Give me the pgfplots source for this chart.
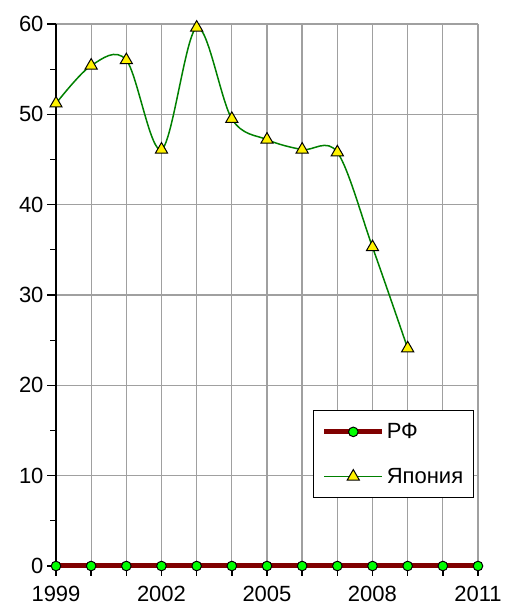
\documentclass[border=0pt]{standalone}
\usepackage{fontspec}
\setmainfont{Liberation Sans}
\usepackage{pgfplots}
\pgfplotsset{compat=1.18}
\definecolor{rfred}{HTML}{800000}
\definecolor{jpgreen}{HTML}{008000}
\definecolor{gridgray}{HTML}{A0A0A0}
\begin{document}
\begin{tikzpicture}
\begin{axis}[
    scale only axis,
    width=422pt, height=542pt,
    xmin=1999, xmax=2011,
    ymin=0, ymax=60,
    axis x line*=bottom, axis y line*=left,
    axis line style={black, line width=1.2pt, -},
    xtick={1999,...,2011},
    xticklabels={1999,,,2002,,,2005,,,2008,,,2011},
    ytick={0,10,...,60},
    minor ytick={5,15,...,55},
    xtick align=outside, ytick align=outside,
    xtick pos=bottom, ytick pos=left,
    major tick length=9pt, minor tick length=6pt,
    tick style={black, line width=1.2pt},
    xtick style={draw=none},
    xmajorgrids, ymajorgrids,
    grid style={gridgray, line width=1.3pt},
    minor grid style={draw=none},
    tick label style={font=\fontsize{22}{24}\selectfont},
    xticklabel style={inner sep=0pt, text depth=0pt, yshift=-11pt},
    /pgf/number format/assume math mode=true,
    clip=false,
    legend style={at={(rel axis cs:0.990,0.288)}, anchor=north east,
        draw=black, line width=1.2pt, fill=white,
        font=\fontsize{22}{24}\selectfont,
        row sep=24pt, inner xsep=8pt, inner ysep=11pt},
    legend cell align=left,
    legend image code/.code={%
        \draw[mark repeat=2, mark phase=2, #1]
            plot coordinates {(0pt,0pt) (29pt,0pt) (58pt,0pt)};},
]
% x tick marks below the axis
\addplot[black, line width=1.5pt, ycomb, no marks, forget plot] coordinates {
    (1999,-1.1) (2000,-1.1) (2001,-1.1) (2002,-1.1) (2003,-1.1) (2004,-1.1) (2005,-1.1)
    (2006,-1.1) (2007,-1.1) (2008,-1.1) (2009,-1.1) (2010,-1.1) (2011,-1.1)
};
\addplot[rfred, line width=5pt, mark=*, mark size=4.8pt,
    mark options={fill=green, draw=black, line width=1pt}] coordinates {
    (1999,0) (2000,0) (2001,0) (2002,0) (2003,0) (2004,0) (2005,0)
    (2006,0) (2007,0) (2008,0) (2009,0) (2010,0) (2011,0)
};
\addlegendentry{РФ}
\addplot[color=jpgreen, line width=1.5pt, smooth, tension=0.55, mark=triangle*, mark size=7pt,
    mark options={fill=yellow, draw=black, line width=1pt, solid}] coordinates {
    (1999,51.2) (2000,55.4) (2001,56.0) (2002,46.1) (2003,59.6) (2004,49.5)
    (2005,47.2) (2006,46.1) (2007,45.8) (2008,35.3) (2009,24.1)
};
\addlegendentry{Япония}
\end{axis}
\path (current axis.south west) ++(-56pt,-39pt) rectangle ++(505pt,605pt);
\end{tikzpicture}
\end{document}
